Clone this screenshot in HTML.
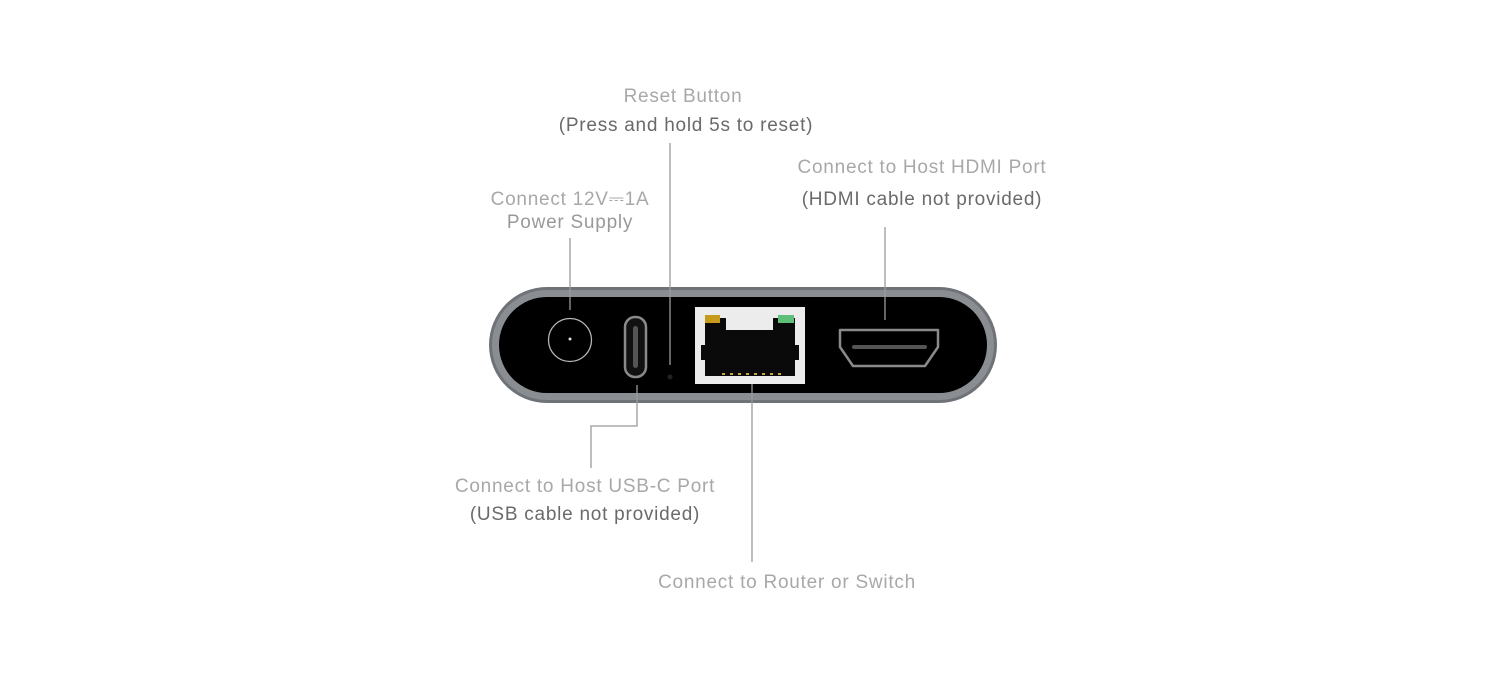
<!DOCTYPE html>
<html><head><meta charset="utf-8"><style>
html,body{margin:0;padding:0;background:#fff;width:1500px;height:677px;overflow:hidden}
text{font-family:"Liberation Sans",sans-serif;font-size:19px;text-anchor:middle;letter-spacing:0.75px}
.l{fill:#a8a8a8}.d{fill:#6a6a6a}
</style></head><body>
<svg width="1500" height="677" viewBox="0 0 1500 677" xmlns="http://www.w3.org/2000/svg">
<rect width="1500" height="677" fill="#fff"/>
<rect x="489" y="287" width="508" height="116" rx="58" fill="#6f7378"/>
<rect x="492" y="290" width="502" height="110" rx="55" fill="#8a8e93"/>
<rect x="499" y="297" width="488" height="96" rx="48" fill="#000"/>
<circle cx="570" cy="340" r="21.5" fill="none" stroke="#b5b5b5" stroke-width="1.3"/>
<circle cx="570" cy="339" r="1.5" fill="#ddd"/>
<rect x="625" y="317" width="21" height="60" rx="10" fill="#111" stroke="#8a8a8a" stroke-width="2.5"/>
<rect x="633" y="326" width="5" height="42" rx="2.5" fill="#555"/>
<circle cx="670" cy="377" r="2.5" fill="#222"/>
<rect x="695" y="307" width="110" height="77" fill="#ececec"/>
<path d="M708 318 H726 V330 H773 V318 H795 V345 H799 V360 H795 V376 H705 V360 H701 V345 H705 V318 Z" fill="#0a0a0a"/>
<rect x="705" y="315" width="15" height="8" fill="#c79a1c"/>
<rect x="778" y="315" width="16" height="8" fill="#5fbf7a"/>
<g fill="#c9a03a"><rect x="722" y="373" width="3" height="2"/><rect x="730" y="373" width="3" height="2"/><rect x="738" y="373" width="3" height="2"/><rect x="746" y="373" width="3" height="2"/><rect x="754" y="373" width="3" height="2"/><rect x="762" y="373" width="3" height="2"/><rect x="770" y="373" width="3" height="2"/><rect x="778" y="373" width="3" height="2"/></g>
<path d="M840 330 H938 V347 L925 366 H853 L840 347 Z" fill="none" stroke="#8a8a8a" stroke-width="2.5" stroke-linejoin="round"/>
<rect x="852" y="345" width="75" height="4" rx="2" fill="#555"/>
<g stroke="#9a9a9a" stroke-width="1.3" fill="none">
<line x1="570" y1="238" x2="570" y2="310"/>
<line x1="670" y1="143" x2="670" y2="365"/>
<line x1="885" y1="227" x2="885" y2="320"/>
<polyline points="637,385 637,426 591,426 591,468"/>
<line x1="752" y1="384" x2="752" y2="562"/>
</g>
<text class="l" x="683" y="102">Reset Button</text>
<text class="d" x="686" y="131">(Press and hold 5s to reset)</text>
<text class="l" x="570" y="205">Connect 12V⎓1A</text>
<text class="d" x="570" y="228" style="fill:#999">Power Supply</text>
<text class="l" x="922" y="173">Connect to Host HDMI Port</text>
<text class="d" x="922" y="205">(HDMI cable not provided)</text>
<text class="l" x="585" y="492">Connect to Host USB-C Port</text>
<text class="d" x="585" y="520">(USB cable not provided)</text>
<text class="l" x="787" y="588">Connect to Router or Switch</text>
</svg>
</body></html>
